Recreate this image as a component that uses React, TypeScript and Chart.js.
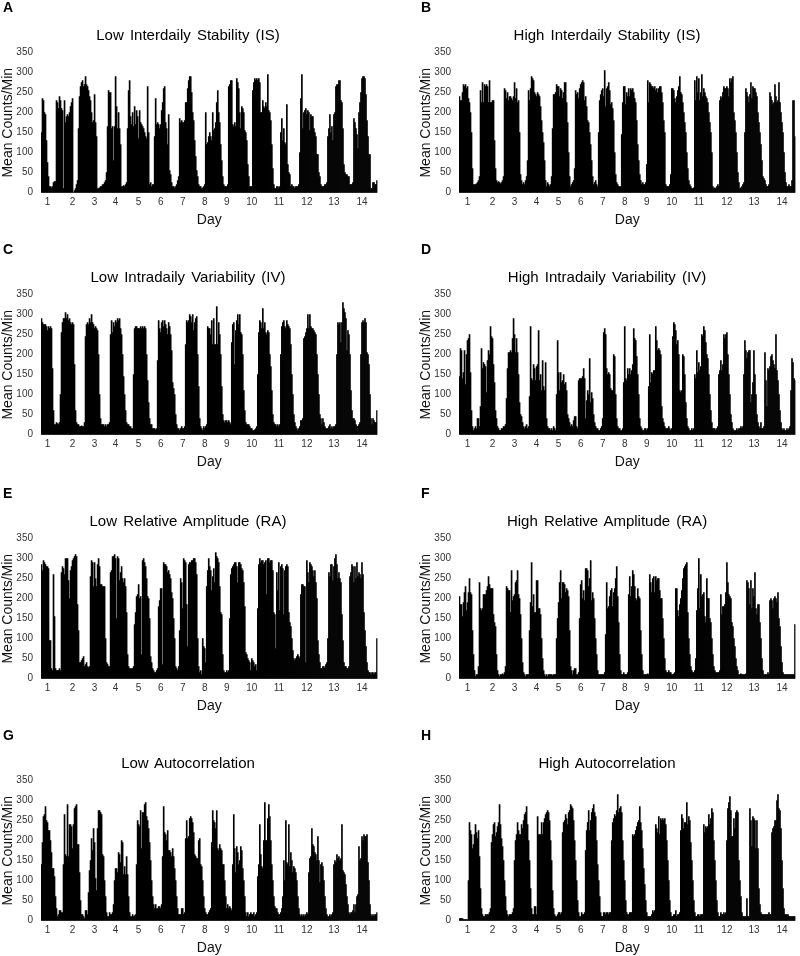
import React, { useEffect, useRef } from 'react';
import { Chart, registerables } from 'chart.js';

Chart.register(...registerables);

const FONT = '"Liberation Sans", Arial, Helvetica, sans-serif';

// ---- axis / tick data ----
const N_HOURS = 336;
const dayLabels = ['1', '2', '3', '4', '5', '6', '7', '8', '9', '10', '11', '12', '13', '14'];
const leftDayTickIdx = [6, 31, 53, 74, 97, 119, 141, 163, 185, 210, 237, 265, 292, 320];
const rightDayTickIdx = [8, 33, 55, 77, 99, 121, 143, 165, 187, 212, 239, 267, 294, 322];
const yMin = 0;
const yMax = 350;
const yStep = 50;

// ---- hourly mean counts/min, 14 days ----
const lowIS = [
  150, 235, 230, 200, 195, 130, 75, 40, 15, 15, 12, 15, 25, 28, 28,
  230, 225, 210, 240, 230, 210, 205, 10, 230, 175, 190, 195, 190, 200, 215, 225, 235,
  0, 5, 10, 20, 30,
  160, 240, 265, 275, 280, 265, 270, 290, 270, 265, 255, 240, 230, 200, 175, 180, 245, 175, 140,
  10, 10, 12, 15, 15, 20, 20, 25, 30,
  50, 165, 255, 250, 250, 160, 165, 80, 165, 290, 215, 160, 200, 160, 120,
  15, 15, 18, 15, 20, 25,
  160, 255, 280, 190, 170, 200, 165, 215, 170, 205, 190, 135, 205, 175, 170, 165, 160, 150, 140, 135, 265, 150,
  20, 25, 15, 20, 20,
  140, 235, 170, 175, 170, 160, 170, 205, 225, 260, 265, 175, 160, 120, 195, 55, 45, 25,
  15, 15, 12, 15, 20, 30, 40,
  185, 175, 180, 175, 175, 180, 225, 225, 260, 280, 290, 290, 250, 200, 180, 130, 90, 55, 40, 20, 15,
  15, 10, 12, 15, 20,
  200, 120, 125, 140, 150, 140, 130, 200, 155, 160, 175, 225, 255, 200, 175, 120, 80, 40, 20, 15,
  15, 15, 20,
  265, 270, 280, 280, 170, 165, 175, 165, 285, 275, 260, 200, 160, 215, 210, 200, 155, 150, 130, 70, 40, 15,
  15, 15,
  255, 275, 285, 280, 285, 280, 285, 275, 200, 200, 230, 215, 210, 225, 215, 295, 205, 200, 180, 120, 60, 20, 10,
  10, 15, 15, 12, 15,
  150, 185, 130, 160, 125, 120, 220, 70, 50, 45,
  15, 20, 15, 15, 10, 15, 15, 15, 20,
  100, 235, 295, 160, 200, 205, 210, 195, 205, 200, 155, 195, 190, 190, 160, 150, 140, 95, 95, 50, 40, 20, 15,
  15, 15, 20, 20, 25,
  140, 160, 195, 150, 165, 130, 195, 200, 265, 270, 270, 280, 280, 230, 225, 160, 70, 50, 45, 45, 40, 40, 20, 20, 20, 25,
  185, 175, 160, 145, 110, 200, 225, 250, 285, 290, 290, 285, 245, 180, 140, 95, 95, 10, 10, 25, 25, 20, 20, 30,
];

const highIS = [
  240, 230, 230, 250, 270, 265, 270, 260, 265, 235, 225, 200, 150,
  60, 20, 20, 20, 22, 25, 30,
  40, 255, 225, 275, 225, 270, 265, 270, 265, 225, 280, 225, 225, 230, 230, 130, 60, 30, 25,
  28, 25, 22, 25, 30,
  40, 260, 255, 235, 250, 230, 240, 240, 235, 230, 240, 275, 235, 260, 225, 230, 150, 45, 30,
  20, 25, 20, 30, 40,
  80, 255, 230, 260, 290, 285, 280, 250, 245, 240, 250, 245, 240, 215, 180, 150, 125, 80, 30,
  15, 25, 20, 15, 20,
  40, 160, 245, 245, 250, 270, 265, 265, 240, 260, 255, 235, 250, 275, 275, 225, 175, 100, 40,
  15, 20, 25, 30,
  60, 255, 245, 250, 235, 260, 270, 275, 280, 275, 230, 240, 215, 180, 175, 150, 120, 80, 40,
  20, 25, 30, 20, 15,
  150, 230, 245, 255, 260, 240, 305, 215, 260, 265, 275, 255, 220, 225, 210, 180, 100, 45, 25, 20,
  15, 15, 15,
  145, 225, 265, 265, 220, 250, 240, 260, 240, 260, 255, 260, 250, 235, 225, 180, 120, 80, 45, 30,
  20, 25, 20, 20, 25,
  70, 280, 225, 275, 270, 265, 265, 260, 265, 255, 260, 250, 260, 265, 265, 250, 225, 180, 150,
  20, 15, 15, 15, 20,
  45, 260, 260, 255, 235, 225, 240, 255, 265, 290, 250, 245, 225, 200, 175, 150, 100, 60, 30, 20,
  15, 10, 10, 12,
  280, 230, 290, 250, 285, 230, 250, 295, 240, 260, 250, 240, 235, 225, 200, 175, 150, 100,
  15, 10, 12, 10, 15, 20, 15,
  230, 240, 235, 250, 265, 260, 260, 265, 260, 240, 285, 275, 285, 290, 200, 180, 150, 100, 50, 25,
  10, 12, 15, 20, 25,
  150, 260, 250, 240, 225, 245, 275, 235, 265, 260, 260, 250, 240, 200, 175, 150, 120, 80, 40,
  35, 30, 20, 15, 15, 20,
  250, 240, 230, 220, 225, 270, 240, 225, 230, 275, 225, 200, 175, 150, 100, 50, 25,
  15, 15, 20, 15, 15, 30,
  230, 230, 140,
];

const lowIV = [
  290, 280, 275, 275, 275, 270, 260, 270, 265, 270, 265, 165, 60,
  25, 25, 30, 28, 25, 30,
  100, 255, 280, 290, 290, 305, 290, 300, 285, 290, 280, 275, 280, 275, 175, 60, 30, 25,
  25, 20, 20, 22, 20, 20, 30,
  245, 275, 280, 275, 290, 280, 300, 280, 275, 265, 270, 265, 260, 200, 100, 40, 25,
  25, 25, 20, 25, 20, 25, 25, 30,
  250, 285, 255, 280, 270, 285, 280, 290, 285, 290, 265, 250, 200, 145, 100, 60, 30, 25,
  25, 20, 20, 15, 15,
  150, 265, 270, 270, 265, 265, 265, 270, 265, 270, 265, 270, 265, 200, 135, 80, 40, 25,
  25, 15, 15, 15, 12, 15,
  185, 285, 265, 255, 280, 285, 270, 285, 275, 265, 250, 280, 270, 250, 210, 130, 115, 100, 50, 25, 15, 15,
  10, 15, 20, 15, 15, 20,
  225, 285, 280, 285, 300, 295, 280, 300, 260, 280, 290, 295, 200, 120, 40, 20, 15,
  10, 20, 15, 20, 25,
  270, 265, 265, 250, 285, 225, 290, 225, 225, 320, 225, 280, 250, 200, 120, 50, 35, 30, 35,
  35, 30, 35, 30, 25,
  230, 275, 280, 175, 260, 285, 300, 275, 300, 255, 250, 200, 110, 60, 30, 25, 25,
  25, 20, 15, 15, 10, 10, 12, 15, 20,
  150, 255, 285, 280, 265, 315, 265, 280, 255, 250, 260, 255, 200, 170, 110, 50, 30, 25, 25, 20,
  25, 20, 25,
  200, 270, 280, 285, 270, 265, 285, 275, 270, 265, 225, 150, 100, 50, 30, 20,
  15, 10, 15, 20, 35, 35, 40,
  240, 245, 255, 265, 300, 265, 300, 270, 265, 265, 260, 255, 250, 200, 150, 100, 50, 40, 25, 40, 30, 20, 15,
  15, 15, 20, 25, 15, 20, 15, 20, 20, 25,
  200, 280, 275, 280, 230, 280, 330, 315, 305, 290, 210, 260, 250, 200, 110, 60, 40, 40, 35,
  25, 20, 20, 25, 30,
  200, 280, 285, 280, 290, 280, 205, 200, 175, 100, 40, 25,
  40, 35, 30, 30, 60,
];

const highIV = [
  145, 215, 210, 140, 155, 210, 125, 200, 235, 240, 250, 155, 60, 20,
  10, 15, 20, 15, 40, 40, 20,
  70, 215, 165, 180, 175, 170, 105, 185, 210, 200, 270, 245, 240, 175, 130, 60, 40, 20, 15, 10,
  10, 15, 15, 20, 20, 25,
  90, 165, 205, 205, 210, 205, 240, 290, 250, 205, 240, 205, 150, 80, 50, 45, 30,
  20, 15, 20, 25, 15, 20,
  95, 270, 140, 135, 175, 165, 135, 170, 175, 260, 135, 150, 110, 185, 120, 110, 180, 40, 20, 15, 15, 10, 15,
  10, 20, 15, 10,
  100, 235, 155, 110, 155, 130, 135, 150, 125, 130, 110, 50, 40, 30, 20, 25,
  20, 35, 45, 45, 20, 15,
  135, 140, 140, 140, 145, 165, 140, 40, 85, 110, 100, 190, 80, 105, 90, 50, 30, 20, 15, 15, 10,
  10, 15, 20,
  40, 255, 265, 250, 165, 150, 155, 150, 115, 110, 110, 200, 195, 100, 40, 20, 15,
  15, 10, 10, 15,
  130, 270, 140, 135, 165, 150, 165, 150, 160, 175, 265, 240, 235, 195, 150, 100, 40, 20, 15, 10,
  10, 15, 15, 10, 15,
  120, 250, 130, 155, 150, 160, 160, 270, 235, 210, 215, 210, 200, 70, 40, 30, 20, 15, 15,
  15, 20, 15, 10, 15,
  245, 280, 275, 260, 225, 235, 200, 110, 105, 110, 200, 195, 150, 80, 40, 20, 15, 10,
  10, 15, 10, 15,
  150, 140, 210, 155, 180, 160, 170, 250, 245, 270, 260, 230, 200, 190, 150, 100, 60, 30, 15, 15,
  15, 10, 15, 20,
  150, 160, 185, 160, 175, 250, 240, 250, 255, 200, 150, 100, 50, 30, 15, 10, 10, 10,
  15, 10, 15, 15, 20, 15, 20,
  150, 235, 210, 190, 205, 210, 210, 80, 100, 130, 210, 150, 100, 50, 30, 20, 15,
  30, 15, 15, 20,
  205, 135, 70, 165, 160, 170, 195, 200, 185, 175, 165, 250, 160, 135, 100, 60, 30, 15, 10, 15, 10,
  10, 15, 10, 15, 20, 110, 190, 180, 140, 135,
];

const lowRA = [
  285, 270, 295, 290, 285, 280, 280, 275, 95, 95,
  25, 20, 260, 155, 25, 20, 20, 20, 25, 20,
  265, 280, 275, 260, 300, 300, 300, 245, 200, 270, 280, 295, 300, 305, 310, 305, 185, 120, 40,
  40, 45, 50, 55, 30, 35, 40, 30, 28, 30,
  255, 295, 290, 230, 290, 250, 230, 285, 300, 280, 235, 235, 230, 230, 230, 100, 40,
  35, 30, 30,
  265, 270, 305, 305, 310, 300, 150, 305, 300, 245, 265, 280, 250, 240, 250, 230, 165, 60, 30,
  25, 25, 25, 25, 30,
  135, 165, 205, 210, 235, 200, 205, 60, 295, 300, 290, 280, 250, 205, 200, 150, 55, 40,
  25, 20, 15, 15, 20, 25,
  180, 195, 225, 225, 35, 290, 285, 285, 280, 265, 270, 260, 250, 215, 200, 150, 100, 30, 25, 20, 30,
  120, 250, 240, 175, 300, 295, 290, 185, 80, 285, 290, 290, 295, 295, 300, 300, 290, 260, 100, 30,
  15, 20, 10, 100, 80, 75, 40,
  230, 270, 300, 280, 270, 220, 255, 275, 240, 315, 305, 300, 290, 230, 165, 160, 60, 20, 15,
  15, 20, 15, 20,
  150, 260, 275, 280, 285, 290, 290, 280, 240, 290, 290, 285, 275, 270, 240, 180, 65, 60,
  50, 45, 40, 20, 50, 45, 40, 30, 35, 20,
  175, 285, 300, 290, 295, 295, 285, 290, 295, 210, 300, 300, 290, 295, 295, 270, 165, 160, 75,
  265, 220, 290, 170, 280, 285, 275, 160, 270, 280, 285, 280, 165, 140, 130, 100, 70, 50, 45,
  50, 55, 60, 55, 50,
  210, 235, 235, 230, 230, 40, 295, 265, 240, 290, 285, 280, 270, 255, 270, 240, 200, 95, 60, 40,
  25, 25, 30, 30, 25, 35, 40,
  100, 265, 255, 285, 285, 245, 280, 300, 310, 285, 250, 265, 250, 240, 160, 95, 40, 30,
  30, 25, 25, 30,
  255, 265, 285, 280, 240, 280, 250, 290, 255, 265, 260, 250, 290, 260, 165, 120, 80, 40, 20, 15,
  15, 10, 15, 15, 10, 15, 15, 100,
];

const highRA = [
  205, 185, 185, 155, 190, 215, 230, 170, 190, 215, 250, 215, 210, 120, 60, 20,
  5, 10, 10, 30,
  240, 175, 170, 175, 210, 210, 210, 220, 230, 255, 235, 225, 225, 225, 160, 140, 130, 60, 20, 10,
  5, 10, 10, 12, 10, 15, 30,
  230, 225, 220, 220, 165, 270, 195, 205, 210, 240, 245, 270, 210, 200, 160, 100, 40, 15,
  10, 5, 10, 10, 10,
  120, 190, 290, 180, 210, 165, 165, 245, 245, 175, 175, 160, 100, 50, 20, 10, 5, 10,
  5, 10, 10, 10, 10, 8, 10, 10, 10,
  100, 150, 190, 240, 270, 200, 240, 240, 235, 215, 225, 220, 205, 120, 30, 20,
  10, 20, 25, 25, 10, 10, 15,
  150, 235, 245, 200, 220, 195, 275, 275, 270, 230, 250, 295, 195, 215, 200, 150, 100, 60, 20, 10, 10, 10,
  10, 10, 10, 15,
  110, 240, 175, 180, 205, 220, 225, 180, 215, 225, 250, 280, 205, 140, 60, 20,
  10, 10, 15, 10, 10, 10, 15,
  210, 255, 205, 230, 270, 260, 230, 200, 195, 225, 205, 200, 120, 60, 20, 10, 10,
  10, 10, 12, 10,
  260, 240, 215, 250, 255, 215, 255, 245, 250, 250, 220, 200, 200, 150, 100, 50, 20, 15, 15,
  20, 15, 15, 10, 10, 12, 15,
  225, 225, 170, 155, 185, 200, 220, 250, 275, 280, 285, 290, 165, 100, 60, 30, 20, 15, 15, 20, 50,
  170, 225, 300, 175, 260, 205, 210, 215, 155, 140, 250, 200, 200, 150, 140, 100, 60, 30, 20, 15,
  15, 15, 15, 20,
  210, 160, 180, 180, 185, 215, 290, 240, 210, 205, 200, 140, 130, 100, 80, 50, 30, 20, 10, 10, 12, 10, 10,
  10, 10, 12,
  245, 240, 225, 185, 245, 175, 225, 205, 265, 175, 160, 185, 185, 140, 100, 50, 20, 10, 10,
  10, 10, 15, 10,
  195, 200, 195, 175, 200, 205, 200, 190, 215, 150, 130, 80, 40, 15, 10, 10, 10, 10,
  10, 10, 10, 10, 10, 10, 10, 135,
];

const lowAC = [
  140, 195, 260, 265, 285, 250, 245, 225, 225, 200, 170, 130, 130, 110, 60, 30,
  10, 15, 25, 25, 20, 20,
  140, 265, 165, 160, 290, 160, 240, 240, 235, 180, 240, 280, 285, 290, 190, 190, 120, 50, 15,
  15, 10, 5, 25, 25, 15,
  70, 125, 150, 205, 175, 230, 195, 105, 75, 230, 275, 275, 270, 265, 165, 160, 100, 60, 20, 10,
  10, 20, 15, 15, 20,
  40, 100, 130, 130, 120, 170, 165, 145, 200, 195, 115, 135, 115, 160, 115, 60, 20, 10,
  10, 15, 10, 12, 15,
  140, 250, 240, 235, 275, 180, 270, 270, 290, 295, 260, 250, 230, 195, 150, 100, 60, 40, 30,
  40, 30, 30, 35, 35, 30, 40,
  160, 285, 220, 215, 200, 225, 175, 175, 170, 160, 180, 160, 130, 100, 60, 30, 15, 15,
  15, 30, 30, 15, 20,
  205, 250, 205, 210, 255, 260, 255, 245, 220, 165, 160, 155, 155, 200, 205, 140, 135, 100, 60, 30, 20, 15, 15, 20, 25, 30,
  195, 275, 250, 245, 230, 275, 180, 175, 190, 180, 175, 140, 140, 100, 60, 30,
  40, 30, 35, 30, 25,
  140, 265, 180, 120, 185, 170, 140, 150, 185, 175, 130, 100, 60, 20, 10, 20, 10, 15, 20, 15,
  15, 20, 10, 15, 20,
  110, 140, 240, 165, 135, 130, 200, 295, 200, 200, 255, 290, 260, 200, 140, 100, 60, 35, 30, 30, 20, 15,
  15, 20, 30,
  60, 150, 100, 250, 145, 140, 240, 135, 170, 150, 120, 135, 130, 120, 100, 60, 30, 15, 10, 15,
  10, 15, 10, 15, 20, 15,
  120, 155, 160, 230, 190, 185, 170, 165, 150, 210, 150, 95, 140, 145, 135, 100, 60, 30, 15, 10, 10, 15, 10,
  15, 20,
  140, 150, 145, 165, 155, 160, 150, 155, 240, 125, 120, 115, 90, 60, 40, 20, 15, 20,
  20, 25, 40, 20, 40,
  60, 65, 185, 150, 155, 210, 200, 215, 210, 210, 215, 145, 100, 40,
  15, 10, 15, 10, 15, 15, 20,
];

const highAC = [
  5, 5, 5, 5, 3, 3, 3, 3, 3,
  100, 245, 225, 215, 180, 190, 215, 240, 220, 205, 225, 160, 80, 30, 15, 10,
  10, 15, 15, 15, 15, 20, 30,
  195, 215, 240, 245, 210, 220, 235, 245, 290, 240, 205, 185, 150, 100, 60, 25, 15,
  10, 15, 15, 15, 20, 30,
  150, 200, 215, 245, 225, 215, 215, 240, 230, 250, 265, 270, 285, 240, 200, 150, 80, 30, 15,
  15, 35, 35, 15,
  260, 215, 215, 215, 245, 215, 245, 255, 265, 270, 275, 270, 250, 200, 150, 75, 30, 15, 10,
  10, 15, 20, 20, 15, 20,
  220, 245, 250, 265, 255, 240, 270, 275, 290, 285, 280, 250, 200, 150, 100, 50, 20, 10, 10,
  20, 15, 15, 20,
  175, 225, 245, 275, 225, 250, 270, 280, 290, 270, 260, 200, 140, 100, 60, 20, 10, 10, 20, 20,
  15, 20, 20, 15, 20, 20,
  200, 245, 255, 265, 260, 275, 315, 270, 280, 285, 270, 200, 150, 100, 50, 20, 15,
  15, 20, 20, 20,
  215, 210, 215, 225, 235, 245, 250, 285, 245, 225, 180, 130, 90, 50, 20, 10, 10, 10,
  10, 15, 25, 20, 25,
  240, 230, 220, 260, 215, 255, 250, 255, 250, 255, 240, 200, 150, 100, 50, 20, 10, 10, 15,
  15, 25, 10, 15, 15, 20,
  225, 265, 255, 230, 245, 245, 295, 240, 260, 250, 195, 150, 100, 50, 20, 10, 10, 15, 15,
  10, 15, 15, 15,
  240, 220, 235, 230, 235, 265, 240, 255, 280, 270, 200, 150, 100, 50, 20, 10, 10, 20, 15,
  15, 20, 15, 20,
  200, 280, 295, 310, 275, 210, 210, 255, 230, 270, 275, 270, 150, 100, 60, 20, 10, 10, 10,
  10, 55, 10, 10,
  280, 250, 185, 260, 255, 250, 180, 250, 180, 80, 40, 20, 15, 15, 15, 15,
  15, 15, 15, 20, 15, 15,
  220, 230, 235, 250, 250, 300, 315, 280, 275, 230, 150, 80, 30, 15, 15, 15, 15, 10, 10,
  10, 10, 10, 10, 10,
];

type PanelDef = { letter: string; title: string; data: number[]; col: number; row: number };

const panels: PanelDef[] = [
  { letter: 'A', title: 'Low Interdaily Stability (IS)', data: lowIS, col: 0, row: 0 },
  { letter: 'B', title: 'High Interdaily Stability (IS)', data: highIS, col: 1, row: 0 },
  { letter: 'C', title: 'Low Intradaily Variability (IV)', data: lowIV, col: 0, row: 1 },
  { letter: 'D', title: 'High Intradaily Variability (IV)', data: highIV, col: 1, row: 1 },
  { letter: 'E', title: 'Low Relative Amplitude (RA)', data: lowRA, col: 0, row: 2 },
  { letter: 'F', title: 'High Relative Amplitude (RA)', data: highRA, col: 1, row: 2 },
  { letter: 'G', title: 'Low Autocorrelation', data: lowAC, col: 0, row: 3 },
  { letter: 'H', title: 'High Autocorrelation', data: highAC, col: 1, row: 3 },
];

const ROW_TOPS = [0, 242, 486, 728];
const COL_LEFTS = [0, 418];
const CANVAS_W = 381;
const CANVAS_H = 242;

function Panel({ p }: { p: PanelDef }) {
  const ref = useRef<HTMLCanvasElement | null>(null);

  useEffect(() => {
    if (!ref.current) return;
    const tickIdx = p.col === 0 ? leftDayTickIdx : rightDayTickIdx;
    const labels: string[] = Array.from({ length: N_HOURS }, () => '');
    tickIdx.forEach((idx, i) => {
      labels[idx] = dayLabels[i];
    });

    const chart = new Chart(ref.current, {
      type: 'bar',
      data: {
        labels,
        datasets: [
          {
            data: p.data,
            backgroundColor: '#000000',
            borderWidth: 0,
            barPercentage: 1,
            categoryPercentage: 1,
          },
        ],
      },
      options: {
        responsive: false,
        animation: false,
        events: [],
        layout: { padding: { top: 52.7, left: 0, right: 0, bottom: 0 } },
        plugins: {
          legend: { display: false },
          tooltip: { enabled: false },
          title: { display: false },
        },
        scales: {
          x: {
            type: 'category',
            grid: { display: false, drawTicks: false },
            border: { display: false },
            ticks: {
              autoSkip: false,
              maxRotation: 0,
              minRotation: 0,
              padding: 4,
              color: '#333333',
              font: { family: FONT, size: 10 },
            },
            title: {
              display: true,
              text: 'Day',
              color: '#111111',
              font: { family: FONT, size: 14 },
              padding: { top: 0, bottom: 13 },
            },
            afterFit: (scale: any) => {
              scale.height = 49.3;
            },
          },
          y: {
            min: yMin,
            max: yMax,
            grid: { display: false, drawTicks: false },
            border: { display: false },
            ticks: {
              stepSize: yStep,
              padding: 8,
              color: '#333333',
              font: { family: FONT, size: 10 },
            },
            title: {
              display: true,
              text: 'Mean Counts/Min',
              color: '#111111',
              font: { family: FONT, size: 14 },
              padding: { top: 0, bottom: 0 },
            },
            afterFit: (scale: any) => {
              scale.width = 41;
            },
          },
        },
      },
    });
    return () => chart.destroy();
  }, [p]);

  const left = COL_LEFTS[p.col];
  const top = ROW_TOPS[p.row];
  const titleCenter = p.col === 0 ? 188 : 189;

  return (
    <div style={{ position: 'absolute', left, top, width: CANVAS_W, height: CANVAS_H }}>
      <canvas
        ref={ref}
        width={CANVAS_W}
        height={CANVAS_H}
        style={{ position: 'absolute', left: 0, top: 0, display: 'block' }}
      />
      <div
        style={{
          position: 'absolute',
          left: 3,
          top: -1,
          fontFamily: FONT,
          fontWeight: 'bold',
          fontSize: 14,
          color: '#000',
        }}
      >
        {p.letter}
      </div>
      <div
        style={{
          position: 'absolute',
          left: 0,
          width: titleCenter * 2,
          top: 26,
          textAlign: 'center',
          fontFamily: FONT,
          fontSize: 15,
          wordSpacing: 2,
          color: '#000',
          whiteSpace: 'nowrap',
        }}
      >
        {p.title}
      </div>
    </div>
  );
}

export default function App() {
  return (
    <div
      style={{
        position: 'absolute',
        left: 0,
        top: 0,
        width: 800,
        height: 956,
        background: '#ffffff',
        overflow: 'hidden',
      }}
    >
      {panels.map((p) => (
        <Panel key={p.letter} p={p} />
      ))}
    </div>
  );
}
